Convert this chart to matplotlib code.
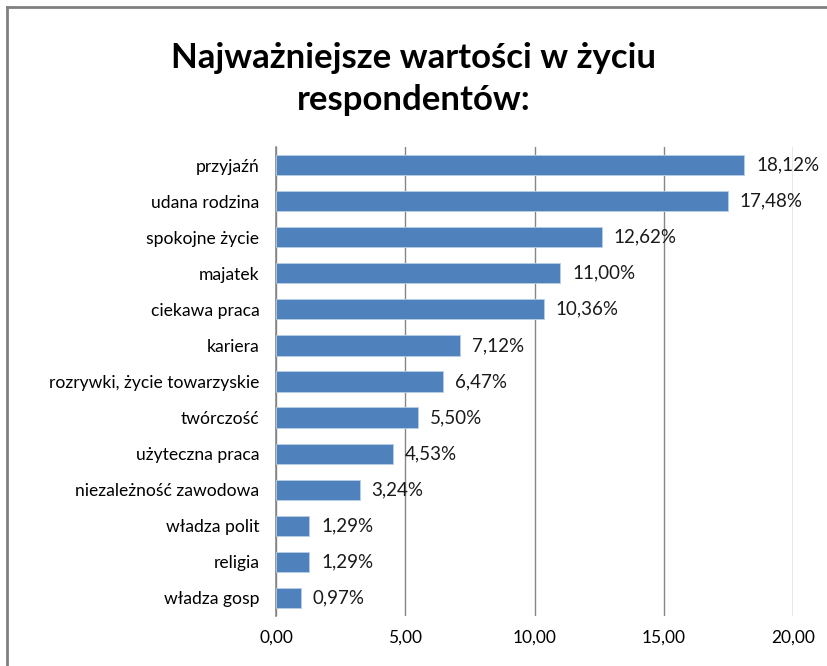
import matplotlib
matplotlib.use("Agg")
import matplotlib.pyplot as plt

plt.rcParams['font.family'] = ['Lato', 'DejaVu Sans']

# data (top to bottom as in the chart)
categories = ['przyjaźń', 'udana rodzina', 'spokojne życie', 'majatek',
              'ciekawa praca', 'kariera', 'rozrywki, życie towarzyskie',
              'twórczość', 'użyteczna praca', 'niezależność zawodowa',
              'władza polit', 'religia', 'władza gosp']
values = [18.12, 17.48, 12.62, 11.00, 10.36, 7.12, 6.47, 5.50, 4.53, 3.24,
          1.29, 1.29, 0.97]
xticks = [0, 5, 10, 15, 20]

W, H = 827, 666
fig = plt.figure(figsize=(W / 100, H / 100), dpi=100)
fig.patch.set_facecolor('white')

# chart border (only top and left visible in reference)
fig.add_artist(plt.Line2D([7 / W, 1], [1 - 7 / H, 1 - 7 / H], color='#808080', lw=2))
fig.add_artist(plt.Line2D([7 / W, 7 / W], [0, 1 - 7 / H], color='#808080', lw=2))

ax = fig.add_axes([276 / W, 1 - 616 / H, (793 - 276) / W, (616 - 147) / H])

y = list(range(len(categories)))
ax.barh(y, values, height=0.56, color='#4F81BD', edgecolor='#B9CDE5', linewidth=0.6, zorder=3)
for yi, v in zip(y, values):
    ax.text(v + 0.45, yi, f'{v:.2f}%'.replace('.', ','), va='center', ha='left',
            fontsize=13.5, color='#1a1a1a', zorder=4)

ax.set_xlim(0, 20)
ax.set_ylim(len(categories) - 0.5, -0.5)
ax.set_yticks(y)
ax.set_yticklabels(categories, fontsize=12.6)
ax.set_xticks(xticks)
ax.set_xticklabels([f'{t:.2f}'.replace('.', ',') for t in xticks], fontsize=12.5)
ax.tick_params(axis='y', length=0, pad=12)
ax.tick_params(axis='x', length=0, pad=10)

for s in ['top', 'right', 'bottom']:
    ax.spines[s].set_visible(False)
ax.spines['left'].set_color('#868686')
ax.spines['left'].set_linewidth(1.2)
ax.xaxis.grid(True, color='#868686', linewidth=1.0, zorder=0)
ax.set_axisbelow(True)

fig.text(0.5, 1 - 79 / H, 'Najważniejsze wartości w życiu\nrespondentów:',
         ha='center', va='center', fontsize=25, fontweight='bold',
         linespacing=1.4)

fig.savefig('out.png', dpi=100)
